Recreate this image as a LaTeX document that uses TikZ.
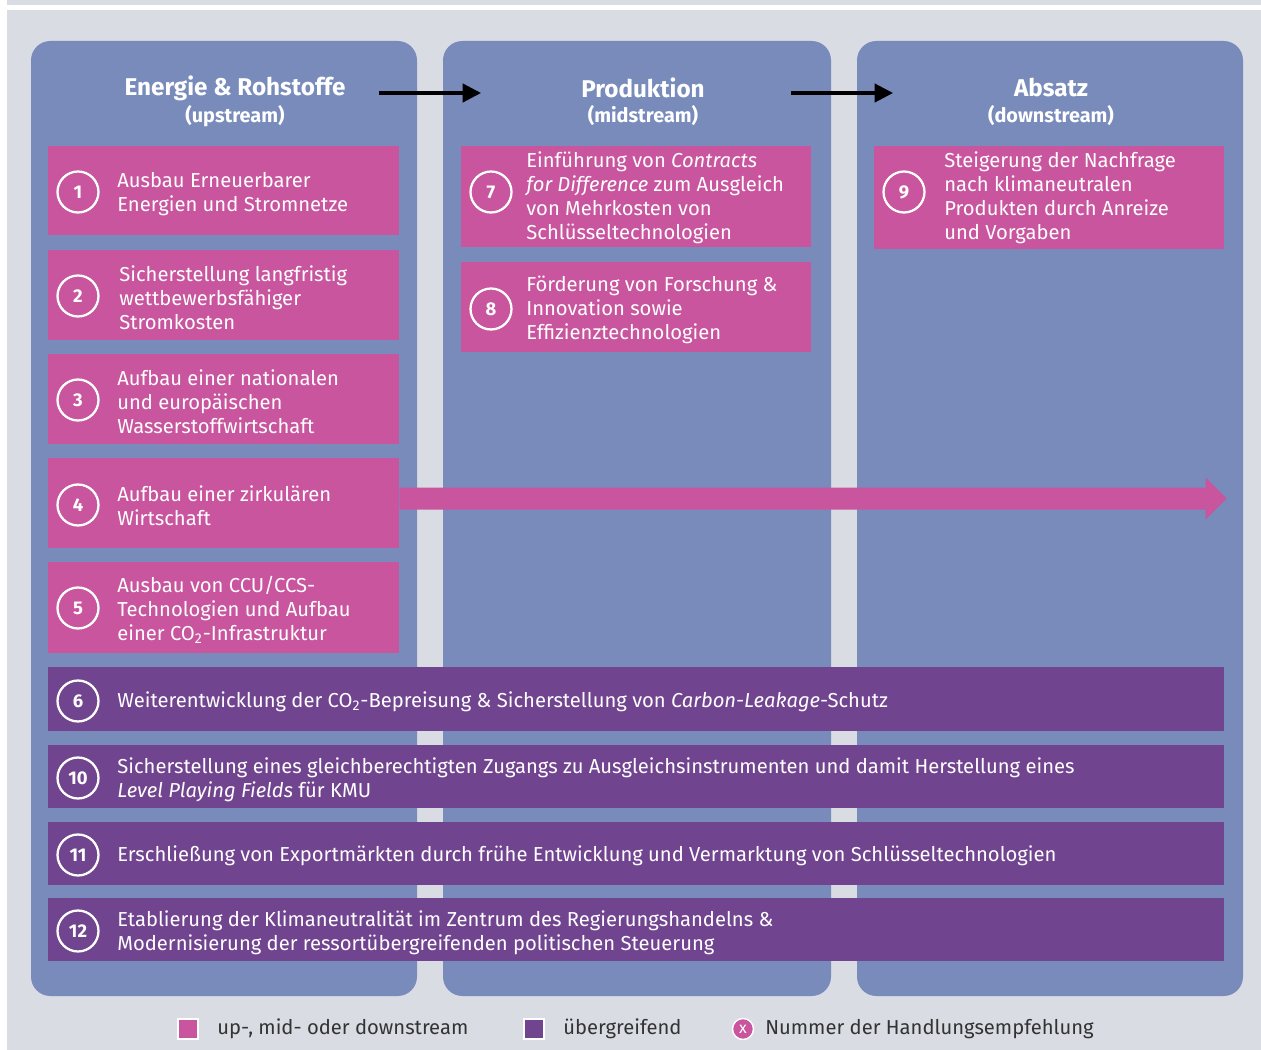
\documentclass[tikz,border=0pt]{standalone}
\usepackage{fontspec}
\setmainfont{Fira Sans}
\usetikzlibrary{arrows.meta}
\definecolor{bggray}{HTML}{D9DCE3}
\definecolor{colblue}{HTML}{788BBB}
\definecolor{pinkbox}{HTML}{C8559E}
\definecolor{purplebar}{HTML}{71448F}
\definecolor{legtext}{HTML}{333333}
\begin{document}
\begin{tikzpicture}[x=0.02cm,y=-0.02cm,
        col/.style={fill=colblue,rounded corners=11pt},
        box/.style={fill=pinkbox,inner sep=0pt,anchor=north west},
        bar/.style={fill=purplebar,inner sep=0pt,anchor=north west,
            minimum width=23.52cm},
        num/.style={circle,draw=white,line width=1.3pt,minimum size=0.82cm,
            inner sep=0pt,text=white,font=\bfseries\fontsize{10.5}{12}\selectfont},
        txt/.style={anchor=west,align=left,inner sep=0pt,text=white,
            font=\fontsize{11.5}{13.6}\selectfont},
        head/.style={text=white,font=\bfseries\fontsize{13.8}{15}\selectfont},
        sub/.style={text=white,font=\bfseries\fontsize{11.3}{12}\selectfont},
        leg/.style={anchor=west,inner sep=0pt,text=legtext,
            font=\fontsize{11.5}{12}\selectfont},
        hdarrow/.style={line width=1.8pt,-{Triangle[length=10.5pt,width=10.5pt]}}]
    \useasboundingbox (0,0) rectangle (1261,1050);
    \fill[bggray] (7,0) rectangle (1261,1050);
    \fill[white] (7,5) rectangle (1261,10);

    % columns
    \fill[col] (31,41) rectangle (417,996);
    \fill[col] (443,41) rectangle (831,996);
    \fill[col] (857,41) rectangle (1243,996);

    \node[head] (h1) at (235,88) {Energie \& Rohstoffe};
    \node[sub] (s1) at (235,116) {(upstream)};
    \node[head] (h2) at (643,88) {Produktion};
    \node[sub] (s2) at (643,116) {(midstream)};
    \node[head] (h3) at (1051,88) {Absatz};
    \node[sub] (s3) at (1051,116) {(downstream)};
    \coordinate (a1) at (379,93);
    \coordinate (a2) at (481,93);
    \coordinate (a3) at (791,93);
    \coordinate (a4) at (893,93);
    \draw[hdarrow] (a1) -- (a2);
    \draw[hdarrow] (a3) -- (a4);

    % upstream
    \node[box,minimum width=7.02cm,minimum height=1.78cm] (b1) at (48,146) {};
    \node[num] (n1) at (78,192) {1};
    \node[txt] (t1) at (117,194) {Ausbau Erneuerbarer\\Energien und Stromnetze};
    \node[box,minimum width=7.02cm,minimum height=1.80cm] (b2) at (48,250) {};
    \node[num] (n2) at (78,296) {2};
    \node[txt] (t2) at (119,298) {Sicherstellung langfristig\\wettbewerbsfähiger\\Stromkosten};
    \node[box,minimum width=7.02cm,minimum height=1.80cm] (b3) at (48,354) {};
    \node[num] (n3) at (78,400) {3};
    \node[txt] (t3) at (117,402) {Aufbau einer nationalen\\und europäischen\\Wasserstoffwirtschaft};
    \node[box,minimum width=7.02cm,minimum height=1.80cm] (b4) at (48,458) {};
    \node[num] (n4) at (78,505) {4};
    \node[txt] (t4) at (117,506) {Aufbau einer zirkulären\\Wirtschaft};
    \node[box,minimum width=7.02cm,minimum height=1.82cm] (b5) at (48,562) {};
    \node[num] (n5) at (78,608) {5};
    \node[txt] (t5) at (117,610) {Ausbau von CCU/CCS-\\Technologien und Aufbau\\einer CO\textsubscript{2}-Infrastruktur};

    % midstream
    \node[box,minimum width=7.00cm,minimum height=2.02cm] (b7) at (461,146) {};
    \node[num] (n7) at (491,192) {7};
    \node[txt] (t7) at (526,198) {Einführung von \textit{Contracts}\\\textit{for Difference} zum Ausgleich\\von Mehrkosten von\\Schlüsseltechnologien};
    \node[box,minimum width=7.00cm,minimum height=1.80cm] (b8) at (461,262) {};
    \node[num] (n8) at (491,309) {8};
    \node[txt] (t8) at (526,310) {Förderung von Forschung \&\\Innovation sowie\\Effizienztechnologien};

    % downstream
    \node[box,minimum width=7.00cm,minimum height=2.06cm] (b9) at (874,146) {};
    \node[num] (n9) at (904,192) {9};
    \node[txt] (t9) at (944,198) {Steigerung der Nachfrage\\nach klimaneutralen\\Produkten durch Anreize\\und Vorgaben};

    % Pfeil zirkulaere Wirtschaft
    \fill[pinkbox] ([yshift=9pt]b4.east) -- ++(806,0) -- ++(0,-10) -- ++(21,21)
        -- ++(-21,21) -- ++(0,-10) -- ++(-806,0) -- cycle;

    % uebergreifend
    \node[bar,minimum height=1.28cm] (b6) at (48,667) {};
    \node[num] (n6) at (78,701) {6};
    \node[txt] (t6) at (117,702) {Weiterentwicklung der CO\textsubscript{2}-Bepreisung \& Sicherstellung von \textit{Carbon-Leakage}-Schutz};
    \node[bar,minimum height=1.26cm] (b10) at (48,745) {};
    \node[num] (n10) at (78,778) {10};
    \node[txt] (t10) at (117,780) {Sicherstellung eines gleichberechtigten Zugangs zu Ausgleichsinstrumenten und damit Herstellung eines\\\textit{Level Playing Fields} für KMU};
    \node[bar,minimum height=1.26cm] (b11) at (48,822) {};
    \node[num] (n11) at (78,855) {11};
    \node[txt] (t11) at (117,856) {Erschließung von Exportmärkten durch frühe Entwicklung und Vermarktung von Schlüsseltechnologien};
    \node[bar,minimum height=1.26cm] (b12) at (48,898) {};
    \node[num] (n12) at (78,931) {12};
    \node[txt] (t12) at (117,933) {Etablierung der Klimaneutralität im Zentrum des Regierungshandelns \&\\Modernisierung der ressortübergreifenden politischen Steuerung};

    % Legende
    \node[fill=pinkbox,draw=white,line width=0.8pt,minimum size=0.40cm,inner sep=0pt] (l1) at (188,1029) {};
    \node[leg] (lt1) at (217,1029) {up-, mid- oder downstream};
    \node[fill=purplebar,draw=white,line width=0.8pt,minimum size=0.40cm,inner sep=0pt] (l2) at (534,1029) {};
    \node[leg] (lt2) at (563,1029) {übergreifend};
    \node[circle,fill=pinkbox,draw=white,line width=0.8pt,minimum size=0.42cm,inner sep=0pt,
        text=white,font=\fontsize{9}{10}\selectfont] (l3) at (743,1029) {x};
    \node[leg] (lt3) at (765,1029) {Nummer der Handlungsempfehlung};
\end{tikzpicture}
\end{document}
